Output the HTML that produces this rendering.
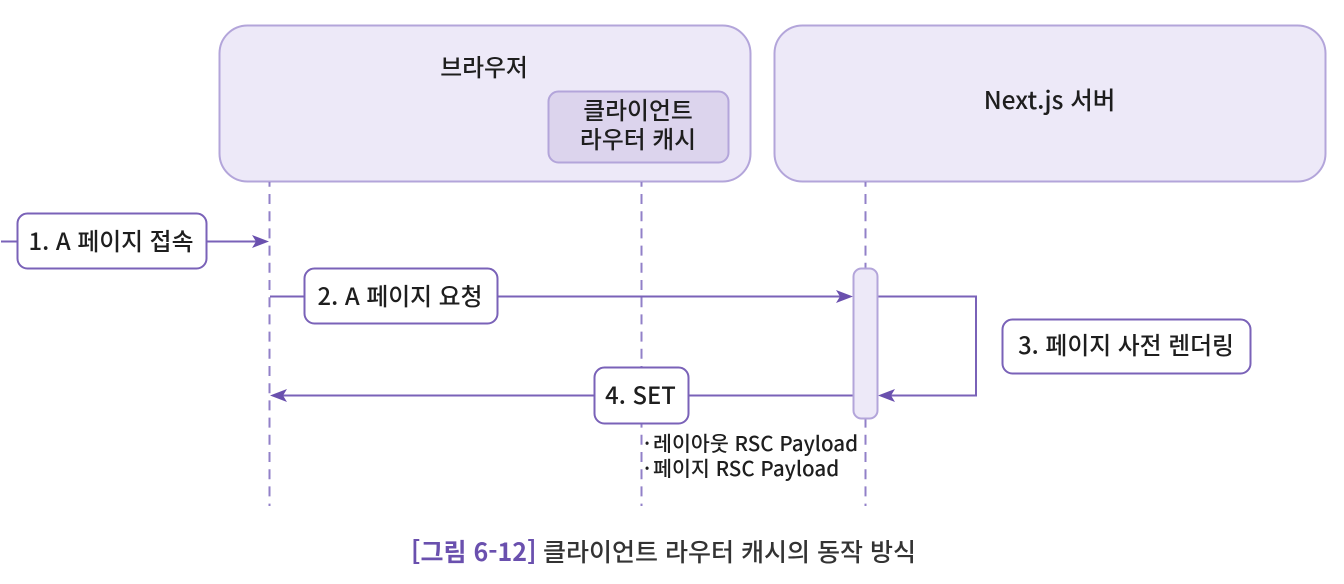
<!DOCTYPE html>
<html lang="ko"><head><meta charset="utf-8"><style>
html,body{margin:0;padding:0;background:#fff;width:1344px;height:584px;overflow:hidden}
svg{display:block}
text{font-family:"Noto Sans CJK KR","Liberation Sans",sans-serif;fill:#1e1e1e;font-size:23.800px;font-weight:500;text-anchor:middle}
</style></head><body>
<svg width="1344" height="584" viewBox="0 0 1344 584" xmlns="http://www.w3.org/2000/svg">
<rect x="219.500" y="25.500" width="531" height="156" rx="28" fill="#ede9f8" stroke="#b3a5da" stroke-width="2"/>
<rect x="774.500" y="25.500" width="551" height="156" rx="28" fill="#ede9f8" stroke="#b3a5da" stroke-width="2"/>
<rect x="548.500" y="91.500" width="180" height="71" rx="10" fill="#dcd4ed" stroke="#b3a5da" stroke-width="2"/>
<g stroke="#9280c8" stroke-width="2" stroke-dasharray="10 7.200" stroke-dashoffset="5.200" fill="none">
<path d="M269.500 182V506"/><path d="M641.500 182V506"/><path d="M865.500 182V506"/>
</g>
<g stroke="#7a62b8" stroke-width="2" fill="none">
<path d="M1 241.500H258"/><path d="M270 296.500H842"/><path d="M878 296.500H976V395.500H890"/><path d="M282 395.500H853"/>
</g>
<g fill="#6a50ae">
<path d="M269 241.500L252 235L256 241.500L252 248Z"/>
<path d="M853 296.500L836 290L840 296.500L836 303Z"/>
<path d="M878 395.500L895 389L891 395.500L895 402Z"/>
<path d="M270 395.500L287 389L283 395.500L287 402Z"/>
</g>
<rect x="853.500" y="268.500" width="24" height="150" rx="8" fill="#ede9f8" stroke="#b3a5da" stroke-width="2"/>
<g fill="#fff" stroke="#7a62b8" stroke-width="2">
<rect x="17.500" y="213.500" width="189" height="55" rx="10"/>
<rect x="304.500" y="268.500" width="193" height="55" rx="10"/>
<rect x="594.500" y="367.500" width="94" height="56" rx="10"/>
<rect x="1002.500" y="319.500" width="248" height="54" rx="10"/>
</g>
<text x="484" y="76">브라우저</text>
<text x="638" y="119">클라이언트</text>
<text x="638" y="148">라우터 캐시</text>
<text x="1049.500" y="109" style="font-size:24.500px">Next.js 서버</text>
<text x="111" y="250">1. A 페이지 접속</text>
<text x="400" y="305">2. A 페이지 요청</text>
<text x="640.500" y="404">4. SET</text>
<text x="1126" y="354">3. 페이지 사전 렌더링</text>
<text x="644" y="451" style="text-anchor:start;font-size:20.600px">·</text>
<text x="653" y="451" style="text-anchor:start;font-size:20.600px">레이아웃 RSC Payload</text>
<text x="644" y="476" style="text-anchor:start;font-size:20.600px">·</text>
<text x="653" y="476" style="text-anchor:start;font-size:20.600px">페이지 RSC Payload</text>
<text x="411" y="561" style="text-anchor:start;font-size:25px;font-weight:700;fill:#6a50ae">[그림 6-12]</text>
<text x="543" y="561" style="text-anchor:start;font-size:25px;fill:#333">클라이언트 라우터 캐시의 동작 방식</text>
</svg>
</body></html>
